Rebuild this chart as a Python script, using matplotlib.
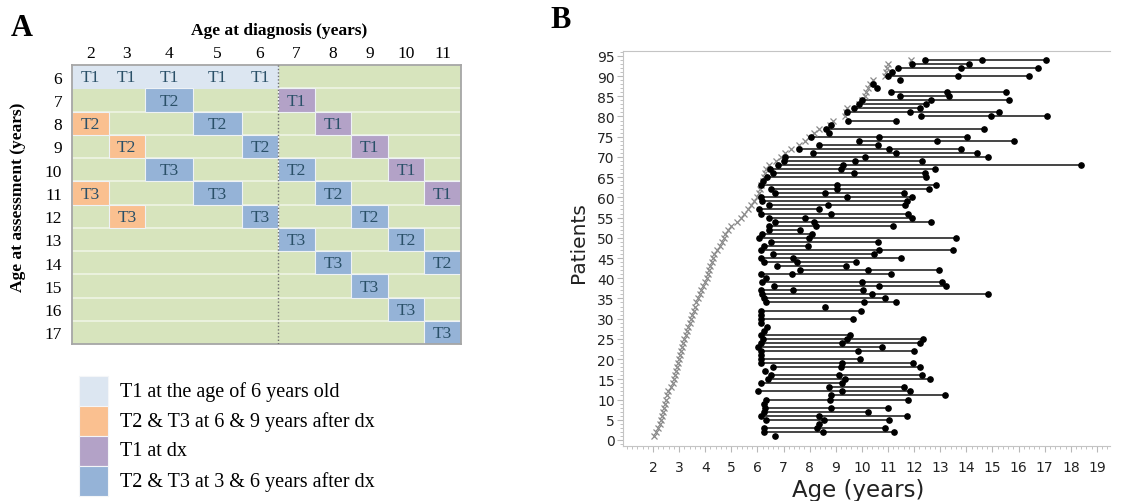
import matplotlib
matplotlib.use("Agg")
import matplotlib.pyplot as plt
from matplotlib.patches import Rectangle
import numpy as np

plt.rcParams['font.family'] = ['Liberation Serif', 'DejaVu Serif']

# ---------------- panel A data ----------------
diag_cols = [2, 3, 4, 5, 6, 7, 8, 9, 10, 11]
assess_rows = [6, 7, 8, 9, 10, 11, 12, 13, 14, 15, 16, 17]

cell_diag = [2, 3, 4, 5, 6,
             7, 8, 9, 10, 11,
             2, 3, 2, 3,
             4, 5, 6, 4, 5, 6,
             7, 8, 9, 10, 11,
             7, 8, 9, 10, 11]
cell_assess = [6, 6, 6, 6, 6,
               7, 8, 9, 10, 11,
               8, 9, 11, 12,
               7, 8, 9, 10, 11, 12,
               10, 11, 12, 13, 14,
               13, 14, 15, 16, 17]
cell_label = (['T1'] * 5 + ['T1'] * 5 + ['T2', 'T2', 'T3', 'T3']
              + ['T2', 'T2', 'T2', 'T3', 'T3', 'T3'] + ['T2'] * 5 + ['T3'] * 5)
cell_group = [0] * 5 + [2] * 5 + [1] * 4 + [3] * 6 + [3] * 5 + [3] * 5

group_names = ['T1 at the age of 6 years old',
               'T2 & T3 at 6 & 9 years after dx',
               'T1 at dx',
               'T2 & T3 at 3 & 6 years after dx']
group_colors = ['#dce6f1', '#fac090', '#b3a2c7', '#95b3d7']

# ---------------- panel B data ----------------
diag_age = [2.03, 2.12, 2.2, 2.25, 2.3, 2.35, 2.38, 2.42, 2.45, 2.48,
            2.52, 2.56, 2.7, 2.76, 2.8, 2.84, 2.88, 2.92, 2.96, 3.0,
            3.04, 3.08, 3.12, 3.16, 3.2, 3.25, 3.3, 3.35, 3.4, 3.45,
            3.5, 3.55, 3.6, 3.66, 3.72, 3.78, 3.85, 3.92, 4.0, 4.08,
            4.12, 4.16, 4.2, 4.25, 4.29, 4.33, 4.45, 4.55, 4.65, 4.7,
            4.75, 4.88, 5.0, 5.2, 5.38, 5.5, 5.65, 5.75, 5.85, 5.97,
            6.05, 6.1, 6.15, 6.2, 6.24, 6.3, 6.33, 6.43, 6.7, 6.9,
            7.04, 7.3, 7.6, 7.83, 7.96, 8.15, 8.34, 8.78, 8.91, 9.37,
            9.4, 9.42, 9.89, 10.0, 10.1, 10.16, 10.22, 10.3, 10.43, 10.9,
            10.92, 10.95, 11.0, 11.87]

visit_ages = [
    [6.69], [6.24, 8.49, 11.22], [6.24, 8.28, 10.88], [8.34],
    [6.31, 8.53, 11.03], [6.12, 8.36, 11.73], [6.24, 10.24],
    [6.28, 8.82, 11.01], [6.25], [6.31, 8.78, 11.77], [8.82, 13.17],
    [6.03, 9.23, 11.86], [8.75, 11.62], [6.15, 9.25], [6.41, 9.36, 12.62],
    [6.53, 9.13, 12.30], [6.28], [6.59, 9.20, 12.21], [6.15, 9.23, 11.96],
    [6.15, 9.93], [6.12], [6.12, 9.86, 11.99], [6.03, 10.78],
    [6.15, 9.25, 12.24], [6.20, 9.44, 12.32], [6.12, 9.54], [6.24], [6.37],
    [6.12], [6.15, 9.67], [6.15], [6.12, 9.96], [8.57],
    [6.33, 10.08, 11.32], [6.24, 10.90], [6.18, 10.37, 14.84],
    [6.15, 7.36, 10.05], [6.62, 10.65, 13.23], [6.18, 10.02, 13.06], [6.31],
    [6.15, 7.32, 11.13], [7.64, 10.24, 12.97], [6.75, 9.38],
    [6.24, 7.51, 9.77], [6.15, 7.36, 11.51], [6.60, 10.47],
    [6.12, 10.65, 13.48], [6.24, 7.92], [6.50, 10.60], [6.05, 7.96, 13.61],
    [6.18, 8.08], [6.46, 7.64], [6.46, 8.24, 11.20], [6.66, 8.15, 12.63],
    [6.43, 7.83, 11.90], [6.12, 8.82, 11.77], [6.05, 8.36],
    [6.46, 8.69, 11.65], [6.19, 11.74], [6.12, 9.43, 11.91],
    [6.69, 8.57, 11.63], [6.53, 9.06, 12.57], [6.15, 9.03, 12.85], [6.22],
    [6.37, 12.44], [6.60, 9.70, 12.42], [6.47, 9.20, 12.79],
    [6.78, 9.28, 18.40], [7.03, 9.74, 12.30], [7.04, 10.13, 14.83],
    [8.11, 11.31, 14.41], [7.60, 11.04, 13.81], [8.34, 10.61],
    [9.89, 12.88, 15.82], [8.05, 10.64, 14.04], [8.73], [8.61, 14.68],
    [8.83], [9.48, 11.31], [12.28, 14.96, 17.10], [9.43, 11.85, 15.25],
    [9.70, 12.24], [9.89, 12.44], [9.99, 12.65, 15.62], [11.45, 13.34],
    [11.12, 13.24, 15.52], [10.59], [10.42], [11.45],
    [11.01, 13.67, 16.39], [11.17], [11.39, 13.80, 16.74], [11.92, 14.11],
    [12.42, 14.59, 17.03]]

W, H = 1124, 502
fig = plt.figure(figsize=(W / 100, H / 100), dpi=100)


def fx(px):
    return px / W


def fy(py):
    return 1 - py / H


# ---------------- panel A ----------------
col_w = [1, 1, 1.32, 1.32, 1, 1, 1, 1, 1, 1]
edges = np.concatenate([[0], np.cumsum(col_w)])
centers = (edges[:-1] + edges[1:]) / 2
col_idx = {d: i for i, d in enumerate(diag_cols)}
text_col = '#2a5068'

axa = fig.add_axes([fx(72), fy(345), fx(461) - fx(72), fy(66) - fy(345)])
axa.set_facecolor('#d7e4bd')
axa.set_xlim(0, edges[-1])
axa.set_ylim(assess_rows[-1] + 0.5, assess_rows[0] - 0.5)
for a in assess_rows[1:]:
    axa.axhline(a - 0.5, color='#eef4e4', lw=1.2, zorder=1)
for d, a, lab, g in zip(cell_diag, cell_assess, cell_label, cell_group):
    i = col_idx[d]
    ec = group_colors[g] if g == 0 else '#eef2f6'
    axa.add_patch(Rectangle((edges[i], a - 0.5), col_w[i], 1,
                            facecolor=group_colors[g], edgecolor=ec,
                            lw=0.8, zorder=2))
    axa.text(centers[i], a + 0.03, lab, ha='center', va='center',
             fontsize=12.5, color=text_col, zorder=3)
axa.axvline(edges[5], color='#707070', ls=(0, (1, 1.5)), lw=1, zorder=4)
axa.set_xticks(centers)
axa.set_xticklabels(diag_cols)
axa.xaxis.tick_top()
axa.set_yticks(assess_rows)
axa.tick_params(length=0, labelsize=12.5)
axa.tick_params(axis='x', pad=3)
axa.tick_params(axis='y', pad=7)
for s in axa.spines.values():
    s.set_color('#a6a6a6')
    s.set_linewidth(1.3)

fig.text(fx(279), fy(31), 'Age at diagnosis (years)', ha='center',
         va='center', fontsize=12.5, fontweight='bold')
fig.text(fx(18), fy(197), 'Age at assessment (years)', ha='center',
         va='center', fontsize=12.5, fontweight='bold', rotation=90)
fig.text(fx(22), fy(28), 'A', ha='center', va='center', fontsize=22,
         fontweight='bold')
fig.text(fx(561), fy(21), 'B', ha='center', va='center', fontsize=22,
         fontweight='bold')

# legend
for k, (name, c) in enumerate(zip(group_names, group_colors)):
    top = 377 + 30 * k
    fig.patches.append(Rectangle((fx(79), fy(top + 30)), fx(108) - fx(79),
                                 fy(top) - fy(top + 30),
                                 transform=fig.transFigure, facecolor=c,
                                 edgecolor='#f4f6f8', lw=0.8))
    fig.text(fx(120), fy(top + 15), name, ha='left', va='center',
             fontsize=14.5)

# ---------------- panel B ----------------
axb = fig.add_axes([fx(623), fy(447), fx(1110) - fx(623), fy(52) - fy(447)])
patients = np.arange(1, len(diag_age) + 1)
for p, visits in zip(patients, visit_ages):
    if len(visits) > 1:
        axb.plot([visits[0], visits[-1]], [p, p], color='#444444', lw=1.4,
                 zorder=1, solid_capstyle='butt')
    axb.plot(visits, [p] * len(visits), 'o', color='black', ms=3.8,
             zorder=3)
axb.plot(diag_age, patients, 'x', color='#8a8a8a', ms=4, mew=0.9, zorder=2)

axb.set_xlim(0.85, 19.5)
axb.set_ylim(-1.5, 96.2)
axb.set_xticks(range(2, 20))
axb.set_xticks(np.arange(1, 19.5, 0.2), minor=True)
axb.set_yticks(range(0, 96, 5))
axb.set_yticks(range(-1, 97), minor=True)
axb.tick_params(which='both', direction='out', color='#b8b8b8')
axb.tick_params(which='major', length=4, labelsize=10, labelcolor='#222222')
axb.tick_params(which='minor', length=2.5)
axb.tick_params(axis='x', pad=6)
axb.tick_params(axis='y', pad=2)
for lbl in axb.get_xticklabels() + axb.get_yticklabels():
    lbl.set_family('DejaVu Sans')
axb.spines['right'].set_visible(False)
for s in ['left', 'bottom', 'top']:
    axb.spines[s].set_color('#c4c4c4')

fig.text(fx(858), fy(491), 'Age (years)', ha='center', va='center',
         fontsize=16.5, family='DejaVu Sans', color='#222222')
fig.text(fx(578), fy(243), 'Patients', ha='center', va='center',
         fontsize=14.5, family='DejaVu Sans', color='#222222', rotation=90)

fig.savefig('out.png', dpi=100)
